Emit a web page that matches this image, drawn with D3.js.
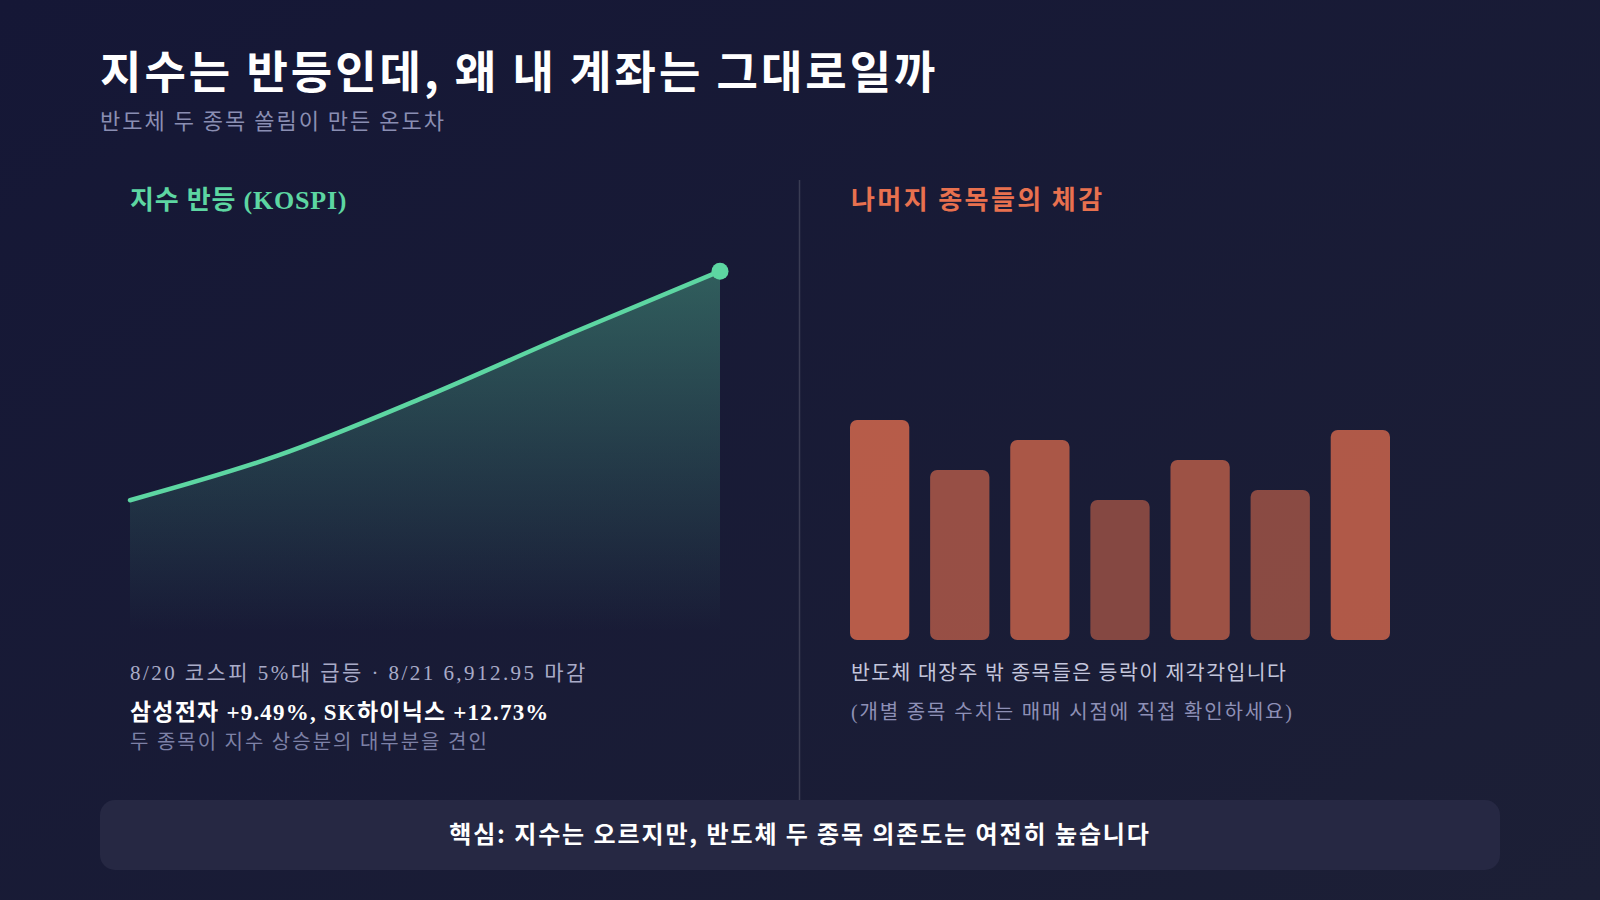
<!DOCTYPE html>
<html><head><meta charset="utf-8">
<script src="https://cdn.jsdelivr.net/npm/d3@7"></script>
<style>html,body{margin:0;padding:0;background:#161836;}svg{display:block;}</style>
</head><body>
<script>
// ---- data ----
const lineDates = ["8/15", "8/18", "8/19", "8/20", "8/21"];
const lineValues = [6270, 6395, 6560, 6740, 6912.95];
const barCategories = ["A", "B", "C", "D", "E", "F", "G"];
const barValues = [11, 8.5, 10, 7, 9, 7.5, 10.5];

const W = 1600, H = 900;
const svg = d3.select("body").append("svg").attr("width", W).attr("height", H);
const defs = svg.append("defs");

const bg = defs.append("linearGradient").attr("id", "bg").attr("x1", 0).attr("y1", 0).attr("x2", 1).attr("y2", 1);
bg.append("stop").attr("offset", "0%").attr("stop-color", "#151736");
bg.append("stop").attr("offset", "100%").attr("stop-color", "#1c1f36");
svg.append("rect").attr("width", W).attr("height", H).attr("fill", "url(#bg)");

const KR = "'Noto Sans CJK KR', 'Noto Sans', sans-serif";
const MIX = "'Liberation Serif', 'Noto Sans CJK KR', serif";

// titles
svg.append("text").attr("x", 100).attr("y", 89).attr("font-family", KR).attr("font-weight", 700)
  .attr("font-size", 45).attr("letter-spacing", 3).attr("fill", "#ffffff").text("지수는 반등인데, 왜 내 계좌는 그대로일까");
svg.append("text").attr("x", 100).attr("y", 129).attr("font-family", KR).attr("font-weight", 400)
  .attr("font-size", 22).attr("letter-spacing", 2).attr("fill", "#8a8eb2").text("반도체 두 종목 쏠림이 만든 온도차");

// panel headers
svg.append("text").attr("x", 130).attr("y", 209).attr("font-family", MIX).attr("font-weight", 700)
  .attr("font-size", 26).attr("letter-spacing", 0.8).attr("fill", "#5dd6a2").text("지수 반등 (KOSPI)");
svg.append("text").attr("x", 851).attr("y", 209).attr("font-family", KR).attr("font-weight", 700)
  .attr("font-size", 26).attr("letter-spacing", 2.4).attr("fill", "#e8714f").text("나머지 종목들의 체감");

// divider
svg.append("line").attr("x1", 799.5).attr("x2", 799.5).attr("y1", 180).attr("y2", 820)
  .attr("stroke", "#ffffff").attr("stroke-opacity", 0.15).attr("stroke-width", 1.5);

// ---- line chart ----
const x = d3.scalePoint().domain(lineDates).range([130, 720]);
const y = d3.scaleLinear().domain([5900, 6950]).range([632, 258]);

const ag = defs.append("linearGradient").attr("id", "areaGrad").attr("x1", 0).attr("y1", 0).attr("x2", 0).attr("y2", 1);
ag.append("stop").attr("offset", "0%").attr("stop-color", "#5dd6a2").attr("stop-opacity", 0.36);
ag.append("stop").attr("offset", "100%").attr("stop-color", "#5dd6a2").attr("stop-opacity", 0.0);

const pts = lineDates.map((d, i) => ({d, v: lineValues[i]}));
const area = d3.area().x(p => x(p.d)).y0(y(5900)).y1(p => y(p.v)).curve(d3.curveMonotoneX);
const line = d3.line().x(p => x(p.d)).y(p => y(p.v)).curve(d3.curveMonotoneX);

svg.append("path").datum(pts).attr("d", area).attr("fill", "url(#areaGrad)");
svg.append("path").datum(pts).attr("d", line).attr("fill", "none").attr("stroke", "#5dd6a2")
  .attr("stroke-width", 4.5).attr("stroke-linecap", "round");
const last = pts[pts.length - 1];
svg.append("circle").attr("cx", x(last.d)).attr("cy", y(last.v)).attr("r", 8.5).attr("fill", "#5dd6a2");

// left notes
svg.append("text").attr("x", 130).attr("y", 680).attr("font-family", MIX).attr("font-size", 21)
  .attr("letter-spacing", 2.45)
  .attr("fill", "#a9abc8").text("8/20 코스피 5%대 급등 · 8/21 " + d3.format(",.2f")(last.v) + " 마감");
svg.append("text").attr("x", 130).attr("y", 720).attr("font-family", MIX).attr("font-weight", 700).attr("font-size", 23)
  .attr("letter-spacing", 1.2).attr("fill", "#ffffff").text("삼성전자 +9.49%, SK하이닉스 +12.73%");
svg.append("text").attr("x", 130).attr("y", 749).attr("font-family", KR).attr("font-size", 20)
  .attr("letter-spacing", 2).attr("fill", "#7d81a6").text("두 종목이 지수 상승분의 대부분을 견인");

// ---- bar chart ----
const xb = d3.scaleBand().domain(barCategories).range([850, 1390]).paddingInner(0.26).paddingOuter(0);
const yb = d3.scaleLinear().domain([0, 11]).range([640, 420]);
const op = d3.scaleLinear().domain([d3.min(barValues), d3.max(barValues)]).range([0.52, 0.76]);
svg.append("g").selectAll("rect").data(barValues).join("rect")
  .attr("x", (v, i) => xb(barCategories[i])).attr("width", xb.bandwidth())
  .attr("y", v => yb(v)).attr("height", v => yb(0) - yb(v))
  .attr("rx", 7).attr("fill", "#e8714f").attr("fill-opacity", v => op(v));

svg.append("text").attr("x", 851).attr("y", 680).attr("font-family", KR).attr("font-size", 20.5)
  .attr("letter-spacing", 1.45).attr("fill", "#c4c6dc").text("반도체 대장주 밖 종목들은 등락이 제각각입니다");
svg.append("text").attr("x", 851).attr("y", 719).attr("font-family", MIX).attr("font-size", 20)
  .attr("letter-spacing", 1.85).attr("fill", "#8e90b6").text("(개별 종목 수치는 매매 시점에 직접 확인하세요)");

// ---- footer ----
svg.append("rect").attr("x", 100).attr("y", 800).attr("width", 1400).attr("height", 70).attr("rx", 15)
  .attr("fill", "#262843");
svg.append("text").attr("x", 800).attr("y", 843).attr("text-anchor", "middle").attr("font-family", KR)
  .attr("font-weight", 700).attr("font-size", 24).attr("letter-spacing", 1.9).attr("fill", "#ffffff")
  .text("핵심: 지수는 오르지만, 반도체 두 종목 의존도는 여전히 높습니다");
</script>
</body></html>
